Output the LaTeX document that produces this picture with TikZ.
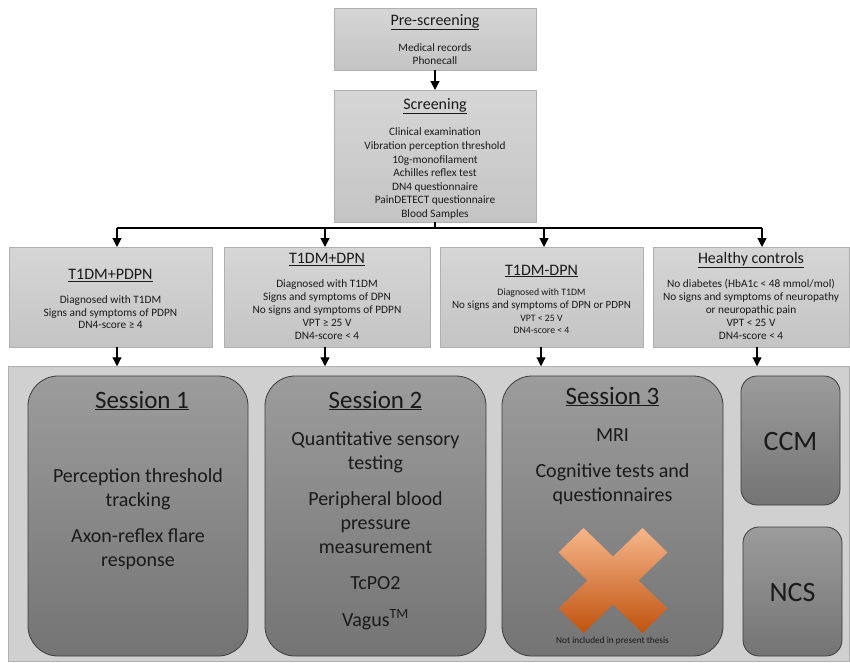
\documentclass[tikz,border=0pt]{standalone}
\usepackage{fontspec}
\setmainfont{Carlito}
\usetikzlibrary{arrows.meta}
\definecolor{boxtop}{HTML}{D6D6D6}
\definecolor{boxbot}{HTML}{C4C4C4}
\definecolor{boxline}{HTML}{B0B0B0}
\definecolor{bgfill}{HTML}{D0D0D0}
\definecolor{sestop}{HTML}{9C9C9C}
\definecolor{sesbot}{HTML}{747474}
\definecolor{sesline}{HTML}{3C3C3C}
\definecolor{xtop}{HTML}{F6B68A}
\definecolor{xmid}{HTML}{EC7D35}
\definecolor{xbot}{HTML}{C0530F}
\definecolor{txt}{HTML}{1A1A1A}
\tikzset{
  lightbox/.style={draw=boxline, line width=0.8pt, top color=boxtop, bottom color=boxbot, inner sep=0pt, outer sep=0pt},
  sesbox/.style={draw=sesline, line width=0.8pt, top color=sestop, bottom color=sesbot, inner sep=0pt, outer sep=0pt, rounded corners=30pt},
  smallses/.style={sesbox, rounded corners=16pt},
  bgbox/.style={draw=boxline, line width=0.8pt, fill=bgfill, inner sep=0pt, outer sep=0pt},
  ln/.style={anchor=base, inner sep=0pt, text=txt},
  ttl/.style={ln, font=\fontsize{16}{19}\selectfont},
  bdy/.style={ln, font=\fontsize{11.3}{13.5}\selectfont},
  mid/.style={ln, font=\fontsize{11}{13}\selectfont},
  sml/.style={ln, font=\fontsize{9.8}{11.5}\selectfont},
  sttl/.style={ln, font=\fontsize{25}{29}\selectfont},
  sbdy/.style={ln, font=\fontsize{20}{24}\selectfont},
  arr/.style={line width=1.2pt, -{Triangle[width=9pt,length=9pt]}},
  wire/.style={line width=1.2pt}
}
\begin{document}
\begin{tikzpicture}[x=1pt,y=-1pt]
\useasboundingbox (0,0) rectangle (850,662);

% top boxes
\node[lightbox, minimum width=202pt, minimum height=62pt] (pre) at (435,39) {};
\node[lightbox, minimum width=202pt, minimum height=132pt] (scr) at (435,156) {};

\node[ttl] (pret) at (435,25) {\underline{Pre-screening}};
\node[bdy] (pre1) at (435,51) {Medical records};
\node[bdy] (pre2) at (435,64.5) {Phonecall};

\node[ttl] (scrt) at (435,109.5) {\underline{Screening}};
\node[bdy] (s1) at (435,135.5) {Clinical examination};
\node[bdy] (s2) at (435,149.5) {Vibration perception threshold};
\node[bdy] (s3) at (435,163) {10g-monofilament};
\node[bdy] (s4) at (435,176.5) {Achilles reflex test};
\node[bdy] (s5) at (435,190) {DN4 questionnaire};
\node[bdy] (s6) at (435,203.5) {PainDETECT questionnaire};
\node[bdy] (s7) at (435,217) {Blood Samples};

% group boxes
\node[lightbox, minimum width=203pt, minimum height=100pt] (g1) at (110.5,297) {};
\node[lightbox, minimum width=206pt, minimum height=100pt] (g2) at (327,297) {};
\node[lightbox, minimum width=203pt, minimum height=100pt] (g3) at (541.5,297) {};
\node[lightbox, minimum width=196pt, minimum height=100pt] (g4) at (751,297) {};

\node[ttl] (g1t) at (110.5,279.5) {\underline{T1DM+PDPN}};
\node[bdy] (g1a) at (110.5,303.5) {Diagnosed with T1DM};
\node[bdy] (g1b) at (110.5,316) {Signs and symptoms of PDPN};
\node[bdy] (g1c) at (110.5,328.5) {DN4-score ≥ 4};

\node[ttl] (g2t) at (327,263.5) {\underline{T1DM+DPN}};
\node[bdy] (g2a) at (327,287.5) {Diagnosed with T1DM};
\node[bdy] (g2b) at (327,300.5) {Signs and symptoms of DPN};
\node[bdy] (g2c) at (327,313.5) {No signs and symptoms of PDPN};
\node[bdy] (g2d) at (327,326.5) {VPT ≥ 25 V};
\node[bdy] (g2e) at (327,339.5) {DN4-score < 4};

\node[ttl] (g3t) at (541.5,275) {\underline{T1DM-DPN}};
\node[sml] (g3a) at (541.5,295) {Diagnosed with T1DM};
\node[mid] (g3b) at (541.5,308.5) {No signs and symptoms of DPN or PDPN};
\node[sml] (g3c) at (541.5,321) {VPT < 25 V};
\node[sml] (g3d) at (541.5,333) {DN4-score < 4};

\node[ttl] (g4t) at (751,263.5) {\underline{Healthy controls}};
\node[bdy] (g4a) at (751,287.5) {No diabetes (HbA1c < 48 mmol/mol)};
\node[bdy] (g4b) at (751,300.5) {No signs and symptoms of neuropathy};
\node[bdy] (g4c) at (751,313.5) {or neuropathic pain};
\node[bdy] (g4d) at (751,326.5) {VPT < 25 V};
\node[bdy] (g4e) at (751,339.5) {DN4-score < 4};

% connectors
\draw[arr] (pre.south) -- (scr.north);
\coordinate (busL) at (117,228);
\coordinate (bus2) at (325,228);
\coordinate (bus3) at (544,228);
\coordinate (busR) at (762,228);
\draw[wire] (scr.south) -- (scr.south |- busL);
\draw[wire] (busL) -- (busR);
\draw[arr] (busL) -- (busL |- g1.north);
\draw[arr] (bus2) -- (bus2 |- g2.north);
\draw[arr] (bus3) -- (bus3 |- g3.north);
\draw[arr] (busR) -- (busR |- g4.north);

% session area
\node[bgbox, minimum width=841pt, minimum height=295.5pt] (bg) at (429,514) {};
\draw[arr] ([xshift=6.5pt]g1.south) -- ([xshift=6.5pt]g1.south |- bg.north);
\draw[arr] ([xshift=-2pt]g2.south) -- ([xshift=-2pt]g2.south |- bg.north);
\draw[arr] ([xshift=-0.5pt]g3.south) -- ([xshift=-0.5pt]g3.south |- bg.north);
\draw[arr] ([xshift=6pt]g4.south) -- ([xshift=6pt]g4.south |- bg.north);

\node[sesbox, minimum width=220pt, minimum height=280pt] (ses1) at (138,516) {};
\node[sesbox, minimum width=221pt, minimum height=280pt] (ses2) at (375.5,516) {};
\node[sesbox, minimum width=221pt, minimum height=280pt] (ses3) at (612.5,516) {};
\node[smallses, minimum width=99pt, minimum height=129pt] (ccm) at (790.5,440.5) {};
\node[smallses, minimum width=99pt, minimum height=129pt] (ncs) at (792.5,591.5) {};

\node[sttl] (s1t) at (142,408) {\underline{Session 1}};
\node[sbdy] (s1a) at (138,482) {Perception threshold};
\node[sbdy] (s1b) at (138,506) {tracking};
\node[sbdy] (s1c) at (138,542) {Axon-reflex flare};
\node[sbdy] (s1d) at (138,566) {response};

\node[sttl] (s2t) at (375.5,408) {\underline{Session 2}};
\node[sbdy] (s2a) at (375.5,445) {Quantitative sensory};
\node[sbdy] (s2b) at (375.5,469) {testing};
\node[sbdy] (s2c) at (375.5,505) {Peripheral blood};
\node[sbdy] (s2d) at (375.5,529) {pressure};
\node[sbdy] (s2e) at (375.5,553) {measurement};
\node[sbdy] (s2f) at (375.5,589) {TcPO2};
\node[sbdy] (s2g) at (375.5,626) {Vagus\textsuperscript{TM}};

\node[sttl] (s3t) at (612.5,404) {\underline{Session 3}};
\node[sbdy] (s3a) at (612.5,441.5) {MRI};
\node[sbdy] (s3b) at (612.5,477) {Cognitive tests and};
\node[sbdy] (s3c) at (612.5,501) {questionnaires};

\shade[top color=xtop, middle color=xmid, bottom color=xbot]
  (613,556.5) -- (642.5,528) -- (667.5,552.5) -- (638.5,580.5) -- (667.5,608.5)
  -- (642.5,633) -- (613,604.5) -- (583.5,633) -- (558.5,608.5) -- (587.5,580.5)
  -- (558.5,552.5) -- (583.5,528) -- cycle;
\node[ln, font=\fontsize{9.3}{11}\selectfont] (s3n) at (612.5,643) {Not included in present thesis};

\node[ln, font=\fontsize{28}{32}\selectfont] (ccmt) at (790.5,450.5) {CCM};
\node[ln, font=\fontsize{28}{32}\selectfont] (ncst) at (792.5,601.5) {NCS};
\end{tikzpicture}
\end{document}
